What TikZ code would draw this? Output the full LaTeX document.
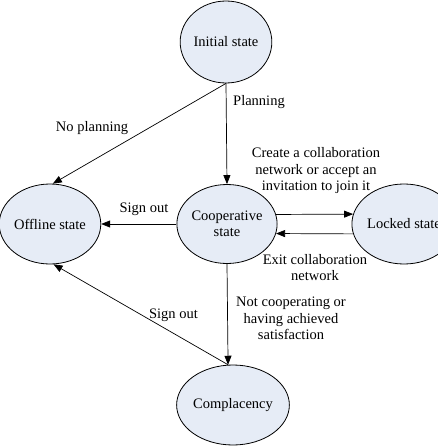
\documentclass[tikz,border=0pt]{standalone}
\usepackage{fontspec}
\setmainfont{Liberation Serif}
\usetikzlibrary{shapes.geometric,arrows.meta}
\definecolor{statefill}{RGB}{230,236,246}
\begin{document}
\begin{tikzpicture}[x=1pt,y=-1pt,
  font=\fontsize{14.5}{16.5}\selectfont,
  state/.style={ellipse,draw=black,line width=0.8pt,fill=statefill,inner sep=0pt,
    minimum width=85pt,minimum height=80pt,align=center},
  trans/.style={line width=0.7pt,-{Triangle[length=9pt,width=7pt]}},
  lbl/.style={align=center,inner sep=0pt}]
\useasboundingbox (0,0) rectangle (437,447);
% states
\node[state,minimum height=82pt] (init) at (226,42) {Initial state};
\node[state] (off) at (50,224) {Offline state};
\node[state,minimum height=79pt] (coop) at (227,224) {Cooperative\\state};
\node[state] (lock) at (404,224) {Locked state};
\node[state,minimum width=96pt] (comp) at (233,405) {Complacency};
% transitions
\draw[trans] (init.south) -- (coop.north);
\draw[trans] (init.south) -- (off.86);
\draw[trans] (coop.west) -- (off.east);
\draw[trans] (coop.11) -- (lock.169);
\draw[trans] (lock.191) -- (coop.-11);
\draw[trans] (coop.south) -- (comp.97);
\draw[trans] (comp.97) -- (off.-85);
% labels
\node[lbl,anchor=west] (lplan) at (233,102) {Planning};
\node[lbl] (lnoplan) at (92,128) {No planning};
\node[lbl] (lcreate) at (316,171) {Create a collaboration\\network or accept an\\invitation to join it};
\node[lbl] (lsign1) at (144,209) {Sign out};
\node[lbl] (lexit) at (315,267.5) {Exit collaboration\\network};
\node[lbl] (lnot) at (291,318.5) {Not cooperating or\\having achieved\\satisfaction};
\node[lbl] (lsign2) at (173.5,315) {Sign out};
\end{tikzpicture}
\end{document}
